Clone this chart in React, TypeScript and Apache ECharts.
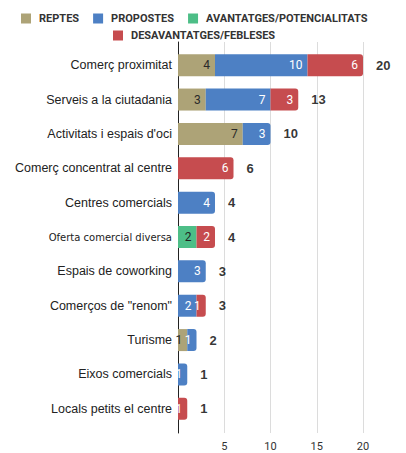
import React, { useEffect, useRef } from "react";
import * as echarts from "echarts";

const categories = [
  "Comerç proximitat",
  "Serveis a la ciutadania",
  "Activitats i espais d'oci",
  "Comerç concentrat al centre",
  "Centres comercials",
  "Oferta comercial diversa",
  "Espais de coworking",
  'Comerços de "renom"',
  "Turisme",
  "Eixos comercials",
  "Locals petits el centre",
];

const seriesNames = ["REPTES", "PROPOSTES", "AVANTATGES/POTENCIALITATS", "DESAVANTATGES/FEBLESES"];
const reptes = [4, 3, 7, 0, 0, 0, 0, 0, 1, 0, 0];
const propostes = [10, 7, 3, 0, 4, 0, 3, 2, 1, 1, 0];
const avantatges = [0, 0, 0, 0, 0, 2, 0, 0, 0, 0, 0];
const desavantatges = [6, 3, 0, 6, 0, 2, 0, 1, 0, 0, 1];

const xTicks = [0, 5, 10, 15, 20];

const colors = ["#ADA377", "#4D80C4", "#4DBE87", "#C64C4F"];
const labelColors = ["#2a2a2a", "#ffffff", "#1f1f1f", "#ffffff"];

export default function App() {
  const ref = useRef<HTMLDivElement>(null);
  useEffect(() => {
    document.body.style.margin = "0";
    if (!ref.current) return;
    const chart = echarts.init(ref.current, undefined, { renderer: "svg" });
    const all = [reptes, propostes, avantatges, desavantatges];
    const totals = categories.map((_, i) => all.reduce((s, a) => s + a[i], 0));
    const lastIdx = categories.map((_, i) => {
      let l = -1;
      all.forEach((a, k) => {
        if (a[i] > 0) l = k;
      });
      return l;
    });
    const barSeries = all.map((arr, k) => ({
      name: seriesNames[k],
      type: "bar",
      stack: "total",
      xAxisIndex: 1,
      yAxisIndex: 1,
      barWidth: 22,
      itemStyle: { color: colors[k] },
      label: {
        show: true,
        position: "insideRight",
        distance: 5,
        color: labelColors[k],
        fontFamily: "Roboto",
        fontSize: 12,
        formatter: (p: any) => (p.value > 0 ? String(p.value) : ""),
      },
      data: arr.map((v, i) =>
        v > 0
          ? {
              value: v,
              itemStyle: {
                color: colors[k],
                borderRadius: lastIdx[i] === k ? [0, 3, 3, 0] : 0,
              },
            }
          : null
      ),
    }));
    const legendText = { fontFamily: "Roboto", fontWeight: "bold", fontSize: 11, color: "#333", padding: [0, 0, 0, 3] };
    const option = {
      animation: false,
      legend: [
        {
          data: seriesNames.slice(0, 3),
          left: 16,
          top: 8,
          itemWidth: 10,
          itemHeight: 10,
          itemGap: 14,
          icon: "rect",
          textStyle: legendText,
        },
        {
          data: seriesNames.slice(3),
          left: 108,
          top: 25,
          itemWidth: 10,
          itemHeight: 10,
          icon: "rect",
          textStyle: legendText,
        },
      ],
      grid: [
        { left: 178, right: 43, top: 42, bottom: 20, containLabel: false },
        { left: 178, right: 43, top: 48, bottom: 27, containLabel: false },
      ],
      xAxis: [
        {
          type: "value",
          gridIndex: 0,
          min: xTicks[0],
          max: xTicks[xTicks.length - 1],
          interval: 5,
          axisLine: { show: false },
          axisTick: { show: false },
          splitLine: { lineStyle: { color: "#dcdcdc" } },
          axisLabel: {
            margin: 8,
            fontFamily: "Roboto",
            fontSize: 11,
            color: "#333",
            formatter: (v: number) => (v === 0 ? "" : String(v)),
          },
        },
        {
          type: "value",
          gridIndex: 1,
          min: xTicks[0],
          max: xTicks[xTicks.length - 1],
          interval: 5,
          show: false,
        },
      ],
      yAxis: [
        {
          type: "value",
          gridIndex: 0,
          min: 0,
          max: 1,
          axisLine: { show: true, lineStyle: { color: "#222", width: 1 } },
          axisTick: { show: false },
          axisLabel: { show: false },
          splitLine: { show: false },
        },
        {
          type: "category",
          gridIndex: 1,
          data: categories,
          inverse: true,
          axisLine: { show: false },
          axisTick: { show: false },
          axisLabel: {
            margin: 6,
            fontFamily: "Liberation Sans",
            fontSize: 12.5,
            color: "#222",
            formatter: (v: string) => (v === "Oferta comercial diversa" ? "{s|" + v + "}" : v),
            rich: { s: { fontFamily: "DejaVu Sans", fontSize: 10, color: "#222" } },
          },
        },
      ],
      series: [
        ...barSeries,
        {
          type: "scatter",
          xAxisIndex: 1,
          yAxisIndex: 1,
          symbolSize: 0,
          silent: true,
          data: totals.map((t, i) => [t, categories[i]]),
          label: {
            show: true,
            position: "right",
            distance: 13,
            fontFamily: "Liberation Sans",
            fontWeight: "bold",
            fontSize: 13,
            color: "#000",
            formatter: (p: any) => String(p.value[0]),
          },
        },
      ],
    };
    chart.setOption(option as any);
    return () => chart.dispose();
  }, []);
  return <div ref={ref} style={{ width: 406, height: 453 }} />;
}
